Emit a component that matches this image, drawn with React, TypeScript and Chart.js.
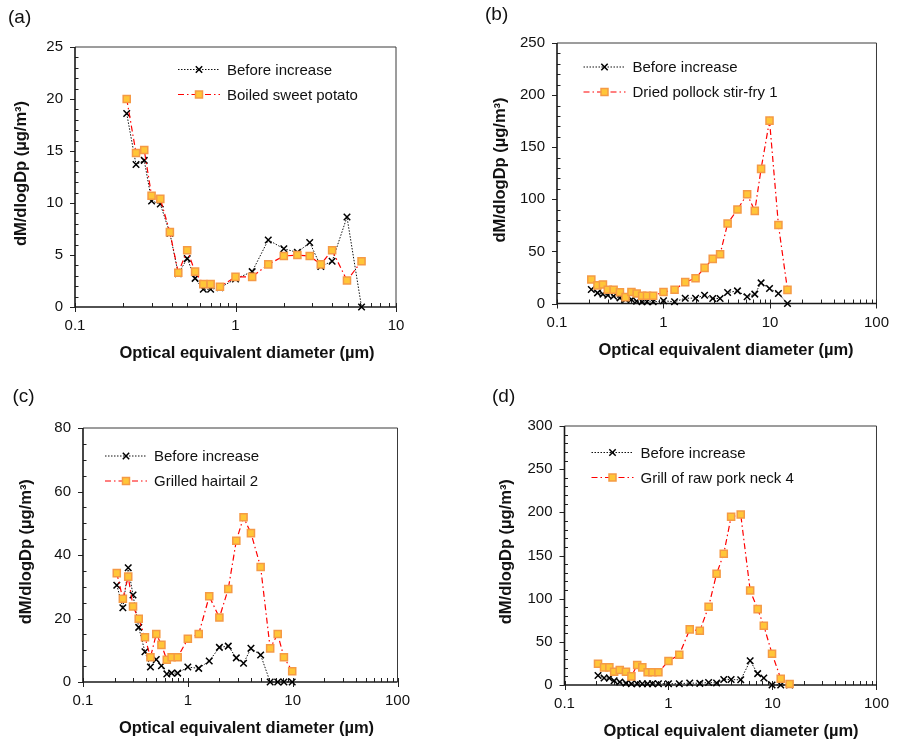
import React, { useEffect, useRef } from "react";
import { Chart, registerables } from "chart.js";

Chart.register(...registerables);

// ---------- data ----------
const diameters = [0.21, 0.24, 0.27, 0.30, 0.34, 0.39, 0.44, 0.50, 0.56, 0.63, 0.70, 0.80, 1.0, 1.27, 1.6, 2.0, 2.43, 2.9, 3.4, 4.0, 4.95, 6.1, 7.2, 8.25, 9.9, 12.0, 14.6];

const xTicksA = [0.1, 1, 10];
const xTicksBCD = [0.1, 1, 10, 100];

const beforeA = [18.6, 13.7, 14.1, 10.2, 9.9, 7.1, 3.2, 4.65, 2.75, 1.7, 1.7, 1.85, 2.7, 3.4, 6.45, 5.6, 5.25, 6.2, 3.9, 4.4, 8.65, 0];
const sweetPotatoA = [20.0, 14.8, 15.1, 10.7, 10.4, 7.2, 3.3, 5.45, 3.4, 2.2, 2.2, 1.95, 2.9, 2.9, 4.1, 4.9, 5.0, 4.9, 4.1, 5.45, 2.55, 4.4];

const beforeB = [13.4, 10.2, 9.0, 8.0, 7.0, 5.4, 3.8, 3.8, 2.2, 1.6, 1.6, 1.6, 2.6, 1.6, 5.1, 5.1, 8.0, 4.8, 4.8, 10.5, 12.1, 6.4, 9.0, 19.8, 14.4, 9.6, 0];
const pollockB = [23.0, 17.4, 18.3, 13.2, 13.2, 10.8, 6.1, 11.0, 9.6, 7.5, 7.5, 7.5, 11.0, 13.2, 20.5, 24.3, 34.2, 42.8, 47.3, 76.7, 90.2, 104.9, 88.9, 129.2, 175.5, 75.4, 13.1];

const beforeC = [30.5, 23.4, 36.0, 27.4, 17.2, 9.5, 4.7, 7.1, 5.1, 2.5, 2.8, 2.8, 4.7, 4.3, 6.6, 10.9, 11.3, 7.6, 5.9, 10.6, 8.5, 0, 0, 0, 0];
const hairtailC = [34.3, 26.2, 33.2, 23.8, 19.9, 14.1, 7.8, 15.1, 11.7, 7.0, 7.8, 7.8, 13.6, 15.1, 27.0, 20.3, 29.3, 44.5, 51.9, 46.9, 36.2, 10.6, 15.1, 7.8, 3.4];

const beforeD = [11.0, 8.2, 8.0, 5.0, 3.5, 2.2, 1.5, 1.5, 1.5, 1.5, 1.5, 1.5, 1.5, 1.5, 2.3, 1.9, 3.0, 2.3, 6.3, 6.3, 6.0, 28.0, 13.2, 8.2, 0, 0, 0];
const porkNeckD = [24.7, 20.4, 20.4, 15.4, 17.4, 15.4, 10.0, 23.1, 20.4, 14.7, 14.7, 14.7, 27.8, 35.1, 64.4, 62.9, 90.6, 128.8, 152.0, 194.8, 197.4, 109.5, 87.9, 68.6, 36.3, 7.3, 1.2];

const beforeLabel = "Before increase";
const xTitle = "Optical equivalent diameter (\u00b5m)";
const yTitle = "dM/dlogDp (\u00b5g/m\u00b3)";

// ---------- layout / style ----------
const FONT = '"Liberation Sans", Arial, Helvetica, sans-serif';

type PanelCfg = {
  tag: string;
  eventName: string;
  before: number[];
  event: number[];
  xTicks: number[];
  yMax: number;
  yStep: number;
  yMinor: number;
  box: [number, number, number, number];
  plot: [number, number, number, number];
  legendAt: [number, number];
  tagAt: [number, number];
  xTitleAt: [number, number];
  yTitleAt: [number, number];
};

const panels: PanelCfg[] = [
  {
    tag: "(a)", eventName: "Boiled sweet potato", before: beforeA, event: sweetPotatoA,
    xTicks: xTicksA, yMax: 25, yStep: 5, yMinor: 1,
    box: [0, 0, 455, 375], plot: [75, 47, 396, 307],
    legendAt: [178, 69.5], tagAt: [8, 18], xTitleAt: [247, 353.5], yTitleAt: [21.7, 173.5],
  },
  {
    tag: "(b)", eventName: "Dried pollock stir-fry 1", before: beforeB, event: pollockB,
    xTicks: xTicksBCD, yMax: 250, yStep: 50, yMinor: 10,
    box: [455, 0, 444, 375], plot: [557, 43, 881, 303.5],
    legendAt: [583.5, 67], tagAt: [485, 14.5], xTitleAt: [726, 350.5], yTitleAt: [500, 170],
  },
  {
    tag: "(c)", eventName: "Grilled hairtail 2", before: beforeC, event: hairtailC,
    xTicks: xTicksBCD, yMax: 80, yStep: 20, yMinor: 5,
    box: [0, 375, 455, 368], plot: [83, 428, 397.5, 682],
    legendAt: [105, 456], tagAt: [12.5, 397], xTitleAt: [246.5, 728.3], yTitleAt: [26.5, 551.7],
  },
  {
    tag: "(d)", eventName: "Grill of raw pork neck 4", before: beforeD, event: porkNeckD,
    xTicks: xTicksBCD, yMax: 300, yStep: 50, yMinor: 10,
    box: [455, 375, 444, 368], plot: [564.5, 426, 886, 685],
    legendAt: [591.5, 452.5], tagAt: [492, 397], xTitleAt: [731, 731.7], yTitleAt: [506, 551.7],
  },
];

const BEFORE_STYLE = { color: "#111111", dash: [1.5, 1.5], width: 1 };
const EVENT_STYLE = { color: "#FF0000", dash: [6, 3, 1.5, 3], width: 1.2, fill: "#FFC638", edge: "#F59A45" };

function drawCross(ctx: CanvasRenderingContext2D, x: number, y: number) {
  const s = 3.2;
  ctx.save();
  ctx.setLineDash([]);
  ctx.strokeStyle = "#000";
  ctx.lineWidth = 1.5;
  ctx.beginPath();
  ctx.moveTo(x - s, y - s); ctx.lineTo(x + s, y + s);
  ctx.moveTo(x + s, y - s); ctx.lineTo(x - s, y + s);
  ctx.stroke();
  ctx.restore();
}

function drawSquare(ctx: CanvasRenderingContext2D, x: number, y: number) {
  const s = 3.5;
  ctx.save();
  ctx.setLineDash([]);
  ctx.fillStyle = EVENT_STYLE.fill;
  ctx.strokeStyle = EVENT_STYLE.edge;
  ctx.lineWidth = 1.5;
  ctx.fillRect(x - s, y - s, 2 * s, 2 * s);
  ctx.strokeRect(x - s, y - s, 2 * s, 2 * s);
  ctx.restore();
}

function makeDecor(cfg: PanelCfg) {
  const ox = cfg.box[0];
  const oy = cfg.box[1];
  return {
    id: "decor",
    beforeDatasetsDraw(chart: any) {
      const ctx: CanvasRenderingContext2D = chart.ctx;
      const { left, top, right, bottom } = chart.chartArea;
      const xs = chart.scales.x;
      const ys = chart.scales.y;
      ctx.save();
      ctx.setLineDash([]);
      // top / right frame
      ctx.strokeStyle = "#3a3a3a";
      ctx.lineWidth = 1;
      ctx.beginPath();
      ctx.moveTo(left, top);
      ctx.lineTo(right, top);
      ctx.lineTo(right, bottom);
      ctx.stroke();
      // y ticks
      ctx.strokeStyle = "#222";
      ctx.lineWidth = 1;
      for (let v = 0; v <= cfg.yMax + 1e-9; v += cfg.yMinor) {
        const py = Math.round(ys.getPixelForValue(v)) + 0.5;
        const major = Math.abs(v / cfg.yStep - Math.round(v / cfg.yStep)) < 1e-6;
        ctx.beginPath();
        if (major) { ctx.moveTo(left - 5, py); ctx.lineTo(left, py); }
        else { ctx.moveTo(left, py); ctx.lineTo(left + 3.5, py); }
        ctx.stroke();
      }
      // x ticks
      const xmax = cfg.xTicks[cfg.xTicks.length - 1];
      for (const d of cfg.xTicks) {
        for (let m = 1; m <= 9; m++) {
          const v = d * m;
          if (v > xmax * 1.0001) break;
          const px = Math.round(xs.getPixelForValue(v)) + 0.5;
          ctx.beginPath();
          if (m === 1) { ctx.moveTo(px, bottom - 4); ctx.lineTo(px, bottom + 5); }
          else { ctx.moveTo(px, bottom - 4); ctx.lineTo(px, bottom); }
          ctx.stroke();
        }
      }
      // axes lines
      ctx.strokeStyle = "#1a1a1a";
      ctx.lineWidth = 1.6;
      ctx.beginPath();
      ctx.moveTo(left, top);
      ctx.lineTo(left, bottom);
      ctx.lineTo(right, bottom);
      ctx.stroke();
      ctx.restore();
    },
    afterDraw(chart: any) {
      const ctx: CanvasRenderingContext2D = chart.ctx;
      ctx.save();
      // legend
      const lx = cfg.legendAt[0] - ox;
      const ly = cfg.legendAt[1] - oy;
      const items = [
        { label: beforeLabel, st: BEFORE_STYLE, marker: drawCross },
        { label: cfg.eventName, st: EVENT_STYLE, marker: drawSquare },
      ];
      items.forEach((it, i) => {
        const y = ly + i * 25;
        ctx.save();
        ctx.strokeStyle = it.st.color;
        ctx.lineWidth = it.st.width;
        ctx.setLineDash(it.st.dash);
        ctx.beginPath();
        ctx.moveTo(lx, y);
        ctx.lineTo(lx + 42, y);
        ctx.stroke();
        ctx.restore();
        it.marker(ctx, lx + 21, y);
        ctx.fillStyle = "#111";
        ctx.font = `15px ${FONT}`;
        ctx.textAlign = "left";
        ctx.textBaseline = "middle";
        ctx.fillText(it.label, lx + 49, y + 1);
      });
      // panel tag
      ctx.fillStyle = "#111";
      ctx.font = `19px ${FONT}`;
      ctx.textAlign = "left";
      ctx.textBaseline = "middle";
      ctx.fillText(cfg.tag, cfg.tagAt[0] - ox, cfg.tagAt[1] - oy);
      // x title
      ctx.font = `bold 16.5px ${FONT}`;
      ctx.textAlign = "center";
      ctx.fillText(xTitle, cfg.xTitleAt[0] - ox, cfg.xTitleAt[1] - oy);
      // y title
      ctx.save();
      ctx.translate(cfg.yTitleAt[0] - ox, cfg.yTitleAt[1] - oy);
      ctx.rotate(-Math.PI / 2);
      ctx.fillText(yTitle, 0, 0);
      ctx.restore();
      ctx.restore();
    },
  };
}

function buildConfig(cfg: PanelCfg): any {
  const [bx, by, bw, bh] = cfg.box;
  const [L, T, R, B] = cfg.plot;
  const beforePts = cfg.before.map((v, i) => ({ x: diameters[i], y: v }));
  const eventPts = cfg.event.map((v, i) => ({ x: diameters[i], y: v }));
  return {
    type: "line",
    data: {
      datasets: [
        {
          label: beforeLabel,
          data: beforePts,
          order: 2,
          borderColor: BEFORE_STYLE.color,
          borderWidth: BEFORE_STYLE.width,
          borderDash: BEFORE_STYLE.dash,
          pointStyle: "crossRot",
          pointRadius: 4.6,
          pointBorderWidth: 1.5,
          pointBorderColor: "#000",
          pointBackgroundColor: "#000",
          tension: 0,
          clip: false,
          fill: false,
        },
        {
          label: cfg.eventName,
          data: eventPts,
          order: 1,
          borderColor: EVENT_STYLE.color,
          borderWidth: EVENT_STYLE.width,
          borderDash: EVENT_STYLE.dash,
          pointStyle: "rect",
          pointRadius: 5,
          pointBorderWidth: 1.5,
          pointBorderColor: EVENT_STYLE.edge,
          pointBackgroundColor: EVENT_STYLE.fill,
          tension: 0,
          clip: false,
          fill: false,
        },
      ],
    },
    options: {
      animation: false,
      responsive: false,
      maintainAspectRatio: false,
      devicePixelRatio: 1,
      events: [],
      layout: { padding: { left: 0, top: T - by, right: bx + bw - R, bottom: 0 } },
      plugins: { legend: { display: false }, title: { display: false }, tooltip: { enabled: false } },
      scales: {
        x: {
          type: "logarithmic",
          min: cfg.xTicks[0],
          max: cfg.xTicks[cfg.xTicks.length - 1],
          grid: { display: false, drawTicks: false },
          border: { display: false },
          afterBuildTicks: (scale: any) => {
            scale.ticks = cfg.xTicks.map((v) => ({ value: v }));
          },
          afterFit: (scale: any) => {
            scale.height = by + bh - B;
          },
          ticks: {
            autoSkip: false,
            maxRotation: 0,
            padding: 10,
            color: "#111",
            font: { family: FONT, size: 15 },
            callback: (v: any) => String(Number(v)),
          },
        },
        y: {
          type: "linear",
          min: 0,
          max: cfg.yMax,
          grid: { display: false, drawTicks: false },
          border: { display: false },
          afterFit: (scale: any) => {
            scale.width = L - bx;
          },
          ticks: {
            stepSize: cfg.yStep,
            padding: 12,
            color: "#111",
            font: { family: FONT, size: 15 },
          },
        },
      },
    },
    plugins: [makeDecor(cfg)],
  };
}

function Panel({ cfg }: { cfg: PanelCfg }) {
  const ref = useRef<HTMLCanvasElement | null>(null);
  useEffect(() => {
    if (!ref.current) return;
    const chart = new Chart(ref.current, buildConfig(cfg));
    return () => chart.destroy();
  }, [cfg]);
  const [bx, by, bw, bh] = cfg.box;
  return (
    <canvas
      ref={ref}
      width={bw}
      height={bh}
      style={{ position: "absolute", left: bx, top: by, width: bw, height: bh }}
    />
  );
}

export default function App() {
  return (
    <div
      style={{
        position: "fixed",
        left: 0,
        top: 0,
        width: 899,
        height: 743,
        background: "#ffffff",
        overflow: "hidden",
      }}
    >
      {panels.map((p) => (
        <Panel key={p.tag} cfg={p} />
      ))}
    </div>
  );
}
